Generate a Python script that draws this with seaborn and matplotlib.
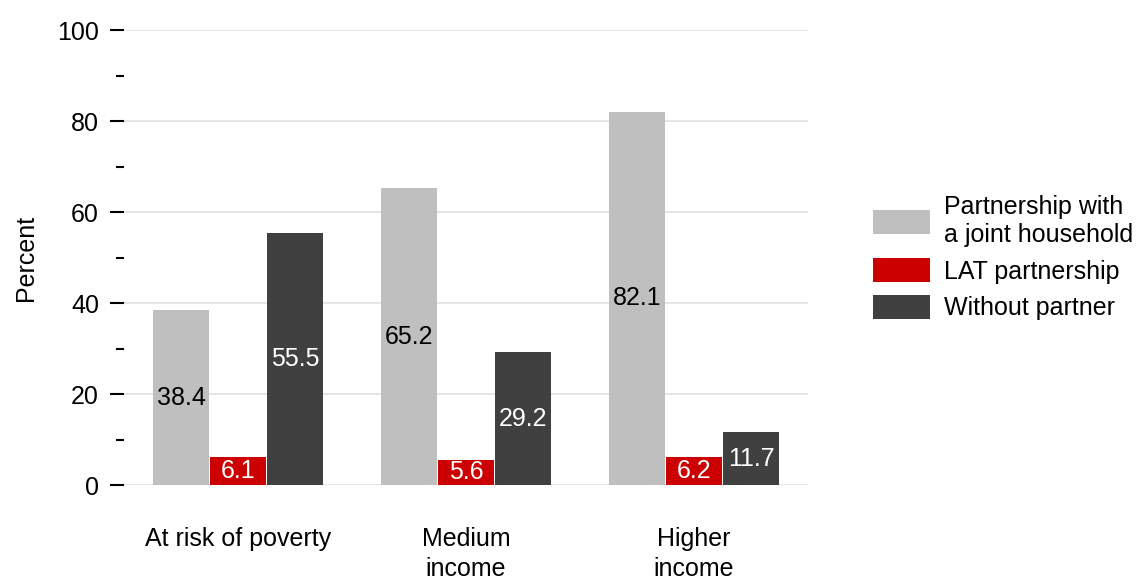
import matplotlib
matplotlib.use("Agg")
import matplotlib.pyplot as plt
import numpy as np
import pandas as pd
import seaborn as sns

# data
groups = ["At risk of poverty", "Medium\nincome", "Higher\nincome"]
series = ["Partnership with\na joint household", "LAT partnership", "Without partner"]
joint_household = [38.4, 65.2, 82.1]
lat_partnership = [6.1, 5.6, 6.2]
without_partner = [55.5, 29.2, 11.7]

colors = ["#BFBFBF", "#CC0000", "#404040"]
label_colors = ["black", "white", "white"]

df = pd.DataFrame({
    "group": groups * 3,
    "series": [series[0]] * 3 + [series[1]] * 3 + [series[2]] * 3,
    "value": joint_household + lat_partnership + without_partner,
})

sns.set_style("white")
plt.rcParams["font.family"] = ["Liberation Sans", "DejaVu Sans"]
plt.rcParams["text.color"] = "black"
plt.rcParams["axes.labelcolor"] = "black"
plt.rcParams["xtick.color"] = "black"
plt.rcParams["ytick.color"] = "black"

FS = 18

fig = plt.figure(figsize=(11.38, 5.79), dpi=100)
ax = fig.add_axes([0.109, 0.162, 0.601, 0.786])

sns.barplot(data=df, x="group", y="value", hue="series", order=groups,
            hue_order=series, palette=colors, width=0.75, gap=0.03,
            linewidth=0, saturation=1, ax=ax)

# value labels in the middle of each bar
for cont, col in zip(ax.containers, label_colors):
    ax.bar_label(cont, fmt="%.1f", label_type="center", color=col, fontsize=FS)

ax.set_ylim(0, 100)
ax.set_xlim(-0.5, 2.5)
ax.set_yticks(np.arange(0, 101, 20))
ax.set_yticks(np.arange(10, 100, 20), minor=True)
ax.yaxis.grid(True, which="major", color="#dedede", linewidth=1.1)
ax.set_axisbelow(True)
for s in ax.spines.values():
    s.set_visible(False)

ax.tick_params(axis="y", which="major", length=10, width=1.5,
               labelsize=FS, pad=8, left=True)
ax.tick_params(axis="y", which="minor", length=6, width=1.5, left=True)
ax.tick_params(axis="x", length=0, labelsize=FS, pad=30)
for t in ax.get_xticklabels():
    t.set_linespacing(1.3)
for t in ax.get_yticklabels():
    t.set_clip_on(False)

ax.set_xlabel("")
ax.set_ylabel("Percent", fontsize=FS, labelpad=14)

leg = ax.legend(loc="center left", bbox_to_anchor=(1.08, 0.50), frameon=False,
                fontsize=FS, handlelength=2.3, handleheight=1.1, handletextpad=0.55,
                labelspacing=0.45, borderaxespad=0)

fig.savefig("out.png", dpi=100)
